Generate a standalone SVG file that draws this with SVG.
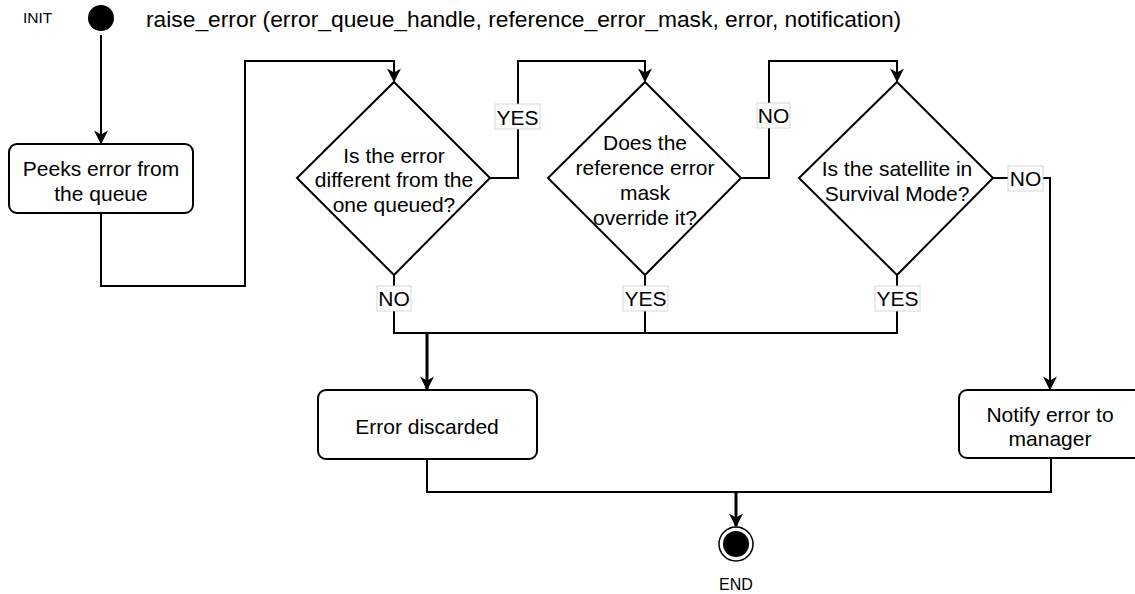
<svg xmlns="http://www.w3.org/2000/svg" width="1135" height="594" viewBox="0 0 1135 594">
  <style>
    text { font-family: "Liberation Sans", Arial, sans-serif; fill: #000; }
    .node { fill: #fff; stroke: #000; stroke-width: 2; }
    .lbl { font-size: 21px; text-anchor: middle; }
    .tagtxt { font-size: 21px; text-anchor: middle; }
    .edge { fill: none; stroke: #000; stroke-width: 2; }
    .thick { fill: none; stroke: #000; stroke-width: 3; }
    .tag { fill: #fff; stroke: #ccc; stroke-width: 0.8; }
  </style>
  <defs>
    <marker id="arrowBig" viewBox="0 0 10 10" refX="9" refY="5" markerWidth="14" markerHeight="14" markerUnits="userSpaceOnUse" orient="auto">
      <path d="M0,0 L10,5 L0,10 L3,5 Z" fill="#000"/>
    </marker>
  </defs>

  <!-- start point and signature -->
  <g id="init">
    <text x="23" y="23" font-size="15.5">INIT</text>
    <circle cx="101" cy="18" r="13" fill="#000"/>
    <text x="146" y="27" font-size="22.8">raise_error (error_queue_handle, reference_error_mask, error, notification)</text>
  </g>

  <!-- connectors -->
  <g id="connectors">
    <path class="edge" d="M101,35 V143" marker-end="url(#arrowBig)"/>
    <path class="edge" d="M101,213 V286 H245 V61 H394 V81" marker-end="url(#arrowBig)"/>
    <path class="edge" d="M490,178 H518 V61 H645 V81" marker-end="url(#arrowBig)"/>
    <path class="edge" d="M741,178 H769 V61 H897 V81" marker-end="url(#arrowBig)"/>
    <path class="edge" d="M993,178 H1050 V389" marker-end="url(#arrowBig)"/>
    <path class="edge" d="M394,275 V333 H897 V275"/>
    <path class="edge" d="M645,275 V333"/>
    <path class="thick" d="M427,333 V389" marker-end="url(#arrowBig)"/>
    <path class="edge" d="M427,459 V492 H1051 V458"/>
    <path class="thick" d="M736,492 V526" marker-end="url(#arrowBig)"/>

    <!-- branch labels -->
    <rect class="tag" x="495" y="104" width="45" height="25"/>
    <text class="tagtxt" x="517.5" y="124.5">YES</text>
    <rect class="tag" x="757" y="103" width="33" height="25"/>
    <text class="tagtxt" x="773.5" y="122.5">NO</text>
    <rect class="tag" x="1008" y="166" width="35" height="25"/>
    <text class="tagtxt" x="1025.5" y="185.5">NO</text>
    <rect class="tag" x="377" y="286" width="34" height="25"/>
    <text class="tagtxt" x="394" y="305.5">NO</text>
    <rect class="tag" x="623" y="286" width="45" height="25"/>
    <text class="tagtxt" x="645.5" y="305.5">YES</text>
    <rect class="tag" x="875" y="286" width="45" height="25"/>
    <text class="tagtxt" x="897.5" y="305.5">YES</text>
  </g>

  <g id="peek">
    <rect class="node" x="9" y="144" width="184" height="69" rx="8"/>
    <text class="lbl" x="101" y="176">Peeks error from</text>
    <text class="lbl" x="101" y="201">the queue</text>
  </g>

  <g id="check-different">
    <polygon class="node" points="394,82 490,178 394,275 297,178"/>
    <text class="lbl" x="394" y="163">Is the error</text>
    <text class="lbl" x="394" y="187">different from the</text>
    <text class="lbl" x="394" y="212">one queued?</text>
  </g>

  <g id="check-mask">
    <polygon class="node" points="645,82 741,178 645,275 548,178"/>
    <text class="lbl" x="645" y="150">Does the</text>
    <text class="lbl" x="645" y="175">reference error</text>
    <text class="lbl" x="645" y="200">mask</text>
    <text class="lbl" x="645" y="225">override it?</text>
  </g>

  <g id="check-survival">
    <polygon class="node" points="897,82 993,178 897,275 799,178"/>
    <text class="lbl" x="897" y="176">Is the satellite in</text>
    <text class="lbl" x="897" y="201">Survival Mode?</text>
  </g>

  <g id="discarded">
    <rect class="node" x="318" y="390" width="219" height="69" rx="8"/>
    <text class="lbl" x="427" y="434">Error discarded</text>
  </g>

  <g id="notify">
    <rect class="node" x="959" y="390" width="184" height="68" rx="8"/>
    <text class="lbl" x="1050" y="422">Notify error to</text>
    <text class="lbl" x="1050" y="446">manager</text>
  </g>

  <g id="end">
    <circle cx="736" cy="544" r="17" fill="#fff" stroke="#000" stroke-width="1.5"/>
    <circle cx="736" cy="544" r="13" fill="#000"/>
    <text x="736" y="590" font-size="16" text-anchor="middle">END</text>
  </g>
</svg>
